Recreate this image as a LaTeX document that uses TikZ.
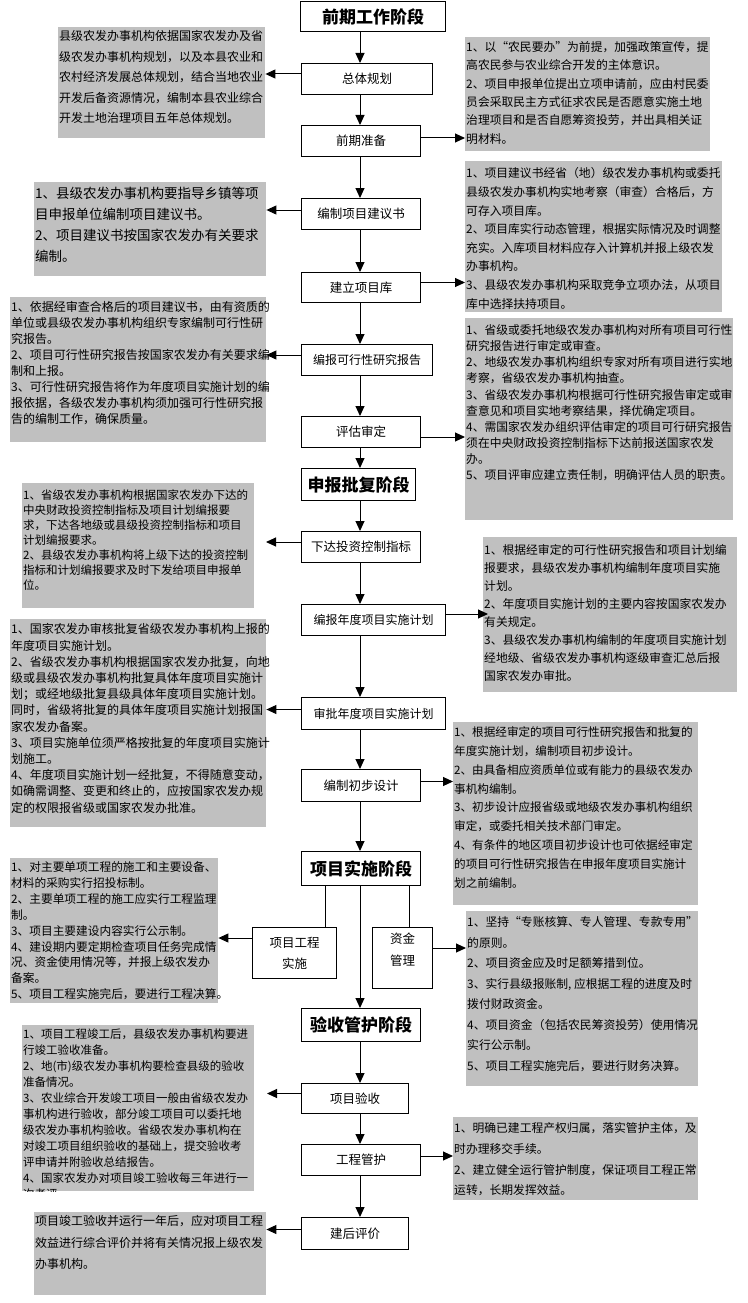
\documentclass[tikz,border=0pt]{standalone}
\usepackage{fontspec}
\newfontfamily\cjk{Noto Sans CJK SC}
\usetikzlibrary{arrows.meta}
\definecolor{boxgray}{RGB}{192,192,192}
\begin{document}
\begin{tikzpicture}[x=1pt,y=-1pt,
  stepbox/.style={draw, line width=1pt, fill=white, anchor=north west, inner sep=0pt, align=center, font=\cjk\fontsize{12.5}{21}\selectfont},
  widebox/.style={stepbox, font=\cjk\fontsize{12}{21}\selectfont},
  stagebox/.style={stepbox, font=\cjk\bfseries\fontsize{17}{19}\selectfont},
  graybox/.style={fill=boxgray, draw=none, anchor=north west, inner sep=0pt},
  gtext/.style={anchor=north west, inner sep=0pt, align=left},
  arr/.style={-{Triangle[length=10pt,width=9pt]}, line width=1pt},
  plain/.style={line width=1pt}
]
\useasboundingbox (0,0) rectangle (747,1303);
\fill[white] (0,0) rectangle (747,1303);
\coordinate (spine) at (360,0);

% ---------- centre column ----------
\node[stagebox, minimum width=145pt, minimum height=30pt] (S1) at (300,1) {前期工作阶段};
\node[stepbox, minimum width=131pt, minimum height=31pt] (B1) at (301,63) {总体规划};
\node[stepbox, minimum width=119pt, minimum height=31pt] (B2) at (301,125) {前期准备};
\node[stepbox, minimum width=119pt, minimum height=31pt] (B3) at (301,198) {编制项目建议书};
\node[stepbox, minimum width=119pt, minimum height=30pt] (B4) at (301,272) {建立项目库};
\node[widebox, minimum width=131pt, minimum height=31pt] (B5) at (301,344) {编报可行性研究报告};
\node[stepbox, minimum width=119pt, minimum height=31pt] (B6) at (301,416) {评估审定};
\node[stagebox, minimum width=114pt, minimum height=32pt] (S2) at (301,468) {申报批复阶段};
\node[stepbox, minimum width=119pt, minimum height=31pt] (B7) at (301,531) {下达投资控制指标};
\node[widebox, minimum width=144pt, minimum height=31pt] (B8) at (301,604) {编报年度项目实施计划};
\node[widebox, minimum width=144pt, minimum height=32pt] (B9) at (301,697) {审批年度项目实施计划};
\node[stepbox, minimum width=119pt, minimum height=32pt] (B10) at (301,769) {编制初步设计};
\node[stagebox, minimum width=119pt, minimum height=34pt] (S3) at (301,851) {项目实施阶段};
\node[stepbox, minimum width=84pt, minimum height=51pt] (G1) at (252,927) {项目工程\\实施};
\node[stepbox, minimum width=60pt, minimum height=61pt] (G2) at (372,927) {};
\node[font=\cjk\fontsize{12.5}{22}\selectfont, align=center, inner sep=0pt] (G2t) at ([yshift=8pt]G2.center) {资金\\管理};
\node[stagebox, minimum width=119pt, minimum height=33pt] (S4) at (301,1008) {验收管护阶段};
\node[stepbox, minimum width=107pt, minimum height=30pt] (B11) at (301,1083) {项目验收};
\node[stepbox, minimum width=119pt, minimum height=31pt] (B12) at (301,1144) {工程管护};
\node[stepbox, minimum width=107pt, minimum height=32pt] (B13) at (301,1217) {建后评价};

% ---------- grey boxes ----------
\node[graybox, minimum width=207pt, minimum height=111pt] (L1) at (58,27) {};
\node[graybox, minimum width=232pt, minimum height=94pt] (L2) at (34,182) {};
\node[graybox, minimum width=256pt, minimum height=145pt] (L3) at (10,297) {};
\node[graybox, minimum width=232pt, minimum height=125pt] (L4) at (22,483) {};
\node[graybox, minimum width=256pt, minimum height=208pt] (L5) at (10,619) {};
\node[graybox, minimum width=208pt, minimum height=145pt] (L6) at (10,858) {};
\node[graybox, minimum width=232pt, minimum height=166pt] (L7) at (22,1025) {};
\node[graybox, minimum width=232pt, minimum height=83pt] (L8) at (34,1212) {};
\node[graybox, minimum width=245pt, minimum height=114pt] (R1) at (465,37) {};
\node[graybox, minimum width=257pt, minimum height=151pt] (R2) at (465,161) {};
\node[graybox, minimum width=268pt, minimum height=202pt] (R3) at (465,318) {};
\node[graybox, minimum width=254pt, minimum height=155pt] (R4) at (483,537) {};
\node[graybox, minimum width=245pt, minimum height=183pt] (R5) at (453,722) {};
\node[graybox, minimum width=232pt, minimum height=175pt] (R6) at (466,911) {};
\node[graybox, minimum width=245pt, minimum height=83pt] (R7) at (453,1117) {};

% ---------- grey box texts ----------
\node[gtext, font=\cjk\fontsize{12}{20.5}\selectfont] (L1t) at (59,30.5) {县级农发办事机构依据国家农发办及省\\
级农发办事机构规划，以及本县农业和\\
农村经济发展总体规划，结合当地农业\\
开发后备资源情况，编制本县农业综合\\
开发土地治理项目五年总体规划。};

\node[gtext, font=\cjk\fontsize{13.5}{21}\selectfont] (L2t) at (35,187) {1、县级农发办事机构要指导乡镇等项\\
目申报单位编制项目建议书。\\
2、项目建议书按国家农发办有关要求\\
编制。};

\node[gtext, font=\cjk\fontsize{12}{15.9}\selectfont] (L3t) at (11,301.5) {1、依据经审查合格后的项目建议书，由有资质的\\
单位或县级农发办事机构组织专家编制可行性研\\
究报告。\\
2、项目可行性研究报告按国家农发办有关要求编\\
制和上报。\\
3、可行性研究报告将作为年度项目实施计划的编\\
报依据，各级农发办事机构须加强可行性研究报\\
告的编制工作，确保质量。};

\node[gtext, font=\cjk\fontsize{11.5}{15}\selectfont] (L4t) at (23,489.8) {1、省级农发办事机构根据国家农发办下达的\\
中央财政投资控制指标及项目计划编报要\\
求，下达各地级或县级投资控制指标和项目\\
计划编报要求。\\
2、县级农发办事机构将上级下达的投资控制\\
指标和计划编报要求及时下发给项目申报单\\
位。};

\node[gtext, font=\cjk\fontsize{12}{16.2}\selectfont] (L5t) at (11,623.5) {1、国家农发办审核批复省级农发办事机构上报的\\
年度项目实施计划。\\
2、省级农发办事机构根据国家农发办批复，向地\\
级或县级农发办事机构批复具体年度项目实施计\\
划；或经地级批复县级具体年度项目实施计划。\\
同时，省级将批复的具体年度项目实施计划报国\\
家农发办备案。\\
3、项目实施单位须严格按批复的年度项目实施计\\
划施工。\\
4、年度项目实施计划一经批复，不得随意变动，\\
如确需调整、变更和终止的，应按国家农发办规\\
定的权限报省级或国家农发办批准。};

\node[gtext, font=\cjk\fontsize{11.7}{15.9}\selectfont] (L6t) at (11,861.5) {1、对主要单项工程的施工和主要设备、\\
材料的采购实行招投标制。\\
2、主要单项工程的施工应实行工程监理\\
制。\\
3、项目主要建设内容实行公示制。\\
4、建设期内要定期检查项目任务完成情\\
况、资金使用情况等，并报上级农发办\\
备案。\\
5、项目工程实施完后，要进行工程决算。};

\begin{scope}
\clip (L7.north west) rectangle (L7.south east);
\node[gtext, font=\cjk\fontsize{11.5}{16}\selectfont] (L7t) at (23,1028.8) {1、项目工程竣工后，县级农发办事机构要进\\
行竣工验收准备。\\
2、地(市)级农发办事机构要检查县级的验收\\
准备情况。\\
3、农业综合开发竣工项目一般由省级农发办\\
事机构进行验收，部分竣工项目可以委托地\\
级农发办事机构验收。省级农发办事机构在\\
对竣工项目组织验收的基础上，提交验收考\\
评申请并附验收总结报告。\\
4、国家农发办对项目竣工验收每三年进行一\\
次考评。};
\end{scope}

\node[gtext, font=\cjk\fontsize{12}{21.5}\selectfont] (L8t) at (35,1215.5) {项目竣工验收并运行一年后，应对项目工程\\
效益进行综合评价并将有关情况报上级农发\\
办事机构。};

\node[gtext, font=\cjk\fontsize{11.8}{18.3}\selectfont] (R1t) at (466,41.5) {1、以“农民要办”为前提，加强政策宣传，提\\
高农民参与农业综合开发的主体意识。\\
2、项目申报单位提出立项申请前，应由村民委\\
员会采取民主方式征求农民是否愿意实施土地\\
治理项目和是否自愿筹资投劳，并出具相关证\\
明材料。};

\node[gtext, font=\cjk\fontsize{11.8}{18.6}\selectfont] (R2t) at (466,167.5) {1、项目建议书经省（地）级农发办事机构或委托\\
县级农发办事机构实地考察（审查）合格后，方\\
可存入项目库。\\
2、项目库实行动态管理，根据实际情况及时调整\\
充实。入库项目材料应存入计算机并报上级农发\\
办事机构。\\
3、县级农发办事机构采取竞争立项办法，从项目\\
库中选择扶持项目。};

\node[gtext, font=\cjk\fontsize{11.8}{16.1}\selectfont] (R3t) at (466,324.5) {1、省级或委托地级农发办事机构对所有项目可行性\\
研究报告进行审定或审查。\\
2、地级农发办事机构组织专家对所有项目进行实地\\
考察，省级农发办事机构抽查。\\
3、省级农发办事机构根据可行性研究报告审定或审\\
查意见和项目实地考察结果，择优确定项目。\\
4、需国家农发办组织评估审定的项目可行研究报告\\
须在中央财政投资控制指标下达前报送国家农发\\
办。\\
5、项目评审应建立责任制，明确评估人员的职责。};

\node[gtext, font=\cjk\fontsize{11.8}{18}\selectfont] (R4t) at (484,544.5) {1、根据经审定的可行性研究报告和项目计划编\\
报要求，县级农发办事机构编制年度项目实施\\
计划。\\
2、年度项目实施计划的主要内容按国家农发办\\
有关规定。\\
3、县级农发办事机构编制的年度项目实施计划\\
经地级、省级农发办事机构逐级审查汇总后报\\
国家农发办审批。};

\node[gtext, font=\cjk\fontsize{11.6}{18.8}\selectfont] (R5t) at (454,726.7) {1、根据经审定的项目可行性研究报告和批复的\\
年度实施计划，编制项目初步设计。\\
2、由具备相应资质单位或有能力的县级农发办\\
事机构编制。\\
3、初步设计应报省级或地级农发办事机构组织\\
审定，或委托相关技术部门审定。\\
4、有条件的地区项目初步设计也可依据经审定\\
的项目可行性研究报告在申报年度项目实施计\\
划之前编制。};

\node[gtext, font=\cjk\fontsize{11.8}{20.5}\selectfont] (R6t) at (467,916.6) {1、坚持“专账核算、专人管理、专款专用”\\
的原则。\\
2、项目资金应及时足额筹措到位。\\
3、实行县级报账制, 应根据工程的进度及时\\
拨付财政资金。\\
4、项目资金（包括农民筹资投劳）使用情况\\
实行公示制。\\
5、项目工程实施完后，要进行财务决算。};

\node[gtext, font=\cjk\fontsize{11.8}{20.7}\selectfont] (R7t) at (454,1122.6) {1、明确已建工程产权归属，落实管护主体，及\\
时办理移交手续。\\
2、建立健全运行管护制度，保证项目工程正常\\
运转，长期发挥效益。};

% ---------- vertical connectors ----------
\draw[arr] (S1.south -| spine) -- (B1.north -| spine);
\draw[arr] (B1.south -| spine) -- (B2.north -| spine);
\draw[arr] (B2.south -| spine) -- (B3.north -| spine);
\draw[arr] (B3.south -| spine) -- (B4.north -| spine);
\draw[arr] (B4.south -| spine) -- (B5.north -| spine);
\draw[arr] (B5.south -| spine) -- (B6.north -| spine);
\draw[arr] (B6.south -| spine) -- (S2.north -| spine);
\draw[arr] (S2.south -| spine) -- (B7.north -| spine);
\draw[arr] (B7.south -| spine) -- (B8.north -| spine);
\draw[arr] (B8.south -| spine) -- (B9.north -| spine);
\draw[arr] (B9.south -| spine) -- (B10.north -| spine);
\draw[arr] (B10.south -| spine) -- (S3.north -| spine);
\draw[arr] (S3.south -| spine) -- (S4.north -| spine);
\draw[arr] (S4.south -| spine) -- (B11.north -| spine);
\draw[arr] (B11.south -| spine) -- (B12.north -| spine);
\draw[arr] (B12.south -| spine) -- (B13.north -| spine);
\draw[plain] ([xshift=-36pt]S3.south) -- ([xshift=-36pt]S3.south |- G1.north);
\draw[plain] ([xshift=48pt]S3.south) -- ([xshift=48pt]S3.south |- G2.north);

% ---------- side connectors ----------
\draw[arr] ([yshift=5pt]B1.west) -- ([yshift=5pt]B1.west -| L1.east);
\draw[arr] ([yshift=3pt]B2.east) -- ([yshift=3pt]B2.east -| R1.west);
\draw[arr] ([yshift=4pt]B3.west) -- ([yshift=4pt]B3.west -| L2.east);
\draw[arr] ([yshift=5pt]B4.east) -- ([yshift=5pt]B4.east -| R2.west);
\draw[arr] ([yshift=5pt]B5.west) -- ([yshift=5pt]B5.west -| L3.east);
\draw[arr] ([yshift=-5pt]B6.east) -- ([yshift=-5pt]B6.east -| R3.west);
\draw[arr] ([yshift=5pt]B7.west) -- ([yshift=5pt,xshift=-35pt]B7.west);
\draw[arr] ([yshift=6pt]B8.east) -- ([yshift=6pt,xshift=5pt]B8.east -| R4.west);
\draw[arr] ([yshift=4pt]B9.west) -- ([yshift=4pt]B9.west -| L5.east);
\draw[arr] ([yshift=4pt]B10.east) -- ([yshift=4pt]B10.east -| R5.west);
\draw[arr] ([yshift=15pt]G1.west) -- ([yshift=15pt]G1.west -| L6.east);
\draw[arr] ([yshift=10pt]G2.east) -- ([yshift=10pt]G2.east -| R6.west);
\draw[arr] ([yshift=5pt]B11.west) -- ([yshift=5pt,xshift=-34pt]B11.west);
\draw[arr] ([yshift=4pt]B12.east) -- ([yshift=4pt]B12.east -| R7.west);
\draw[arr] ([yshift=4pt]B13.west) -- ([yshift=4pt]B13.west -| L8.east);
\end{tikzpicture}
\end{document}
